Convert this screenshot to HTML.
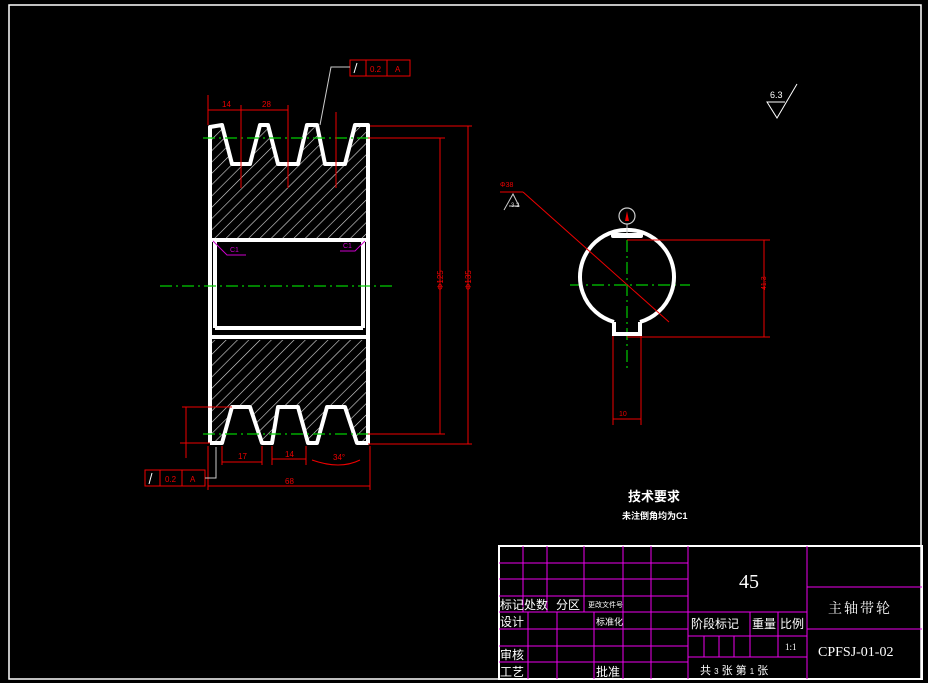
<!DOCTYPE html>
<html><head><meta charset="utf-8"><style>
html,body{margin:0;padding:0;background:#000;}
svg{display:block;}
text{font-family:"Liberation Sans","Noto Sans CJK SC",sans-serif;}
</style></head><body>
<svg width="928" height="683" viewBox="0 0 928 683" xmlns="http://www.w3.org/2000/svg">
<defs>
<pattern id="h" width="8" height="8" patternUnits="userSpaceOnUse" patternTransform="rotate(45)">
<line x1="0" y1="0" x2="0" y2="8" stroke="#ddd" stroke-width="1.2"/>
</pattern>
</defs>
<rect width="928" height="683" fill="#000"/>
<rect x="9" y="5" width="912" height="674" fill="none" stroke="#fff" stroke-width="1.5"/>

<polygon points="208,125 222,125 232,164 250,164 260,125 268,125 278,164 298,164 307,125 317,125 325,164 345,164 355,125 368,125 368,238 210,238" fill="url(#h)"/>
<polygon points="210,340 368,340 368,443 357,443 345,407 327,407 317,443 308,443 298,407 278,407 272,443 262,443 250,407 232,407 222,443 210,443" fill="url(#h)"/>
<g fill="none" stroke="#fff" stroke-width="4" stroke-linejoin="round">
<polyline points="210,443 210,127 222,125 232,164 250,164 260,125 268,125 278,164 298,164 307,125 317,125 325,164 345,164 355,125 368,125 368,443 357,443 345,407 327,407 317,443 308,443 298,407 278,407 272,443 262,443 250,407 232,407 222,443 210,443"/>
<line x1="210" y1="240" x2="368" y2="240"/>
<line x1="210" y1="337" x2="368" y2="337"/>
<line x1="215" y1="242" x2="215" y2="328"/>
<line x1="363" y1="242" x2="363" y2="328"/>
<line x1="215" y1="328" x2="363" y2="328"/>
</g>
<g stroke="#0c0" stroke-width="1.2" stroke-dasharray="12,4,2,4" fill="none">
<line x1="160" y1="286" x2="396" y2="286"/>
<line x1="203" y1="138" x2="372" y2="138"/>
<line x1="203" y1="434" x2="372" y2="434"/>
<line x1="570" y1="285" x2="690" y2="285"/>
<line x1="627" y1="240" x2="627" y2="370"/>
</g>
<g stroke="#c0c" stroke-width="1" fill="none">
<polyline points="213,241 227,255 246,255"/>
<polyline points="365,241 355,251 340,251"/>
</g>
<text x="230" y="252" font-size="7" fill="#c0c">C1</text>
<text x="343" y="248" font-size="7" fill="#c0c">C1</text>

<g stroke="#e00" stroke-width="1" fill="none">
<line x1="208" y1="95" x2="208" y2="125"/><line x1="241" y1="105" x2="241" y2="188"/>
<line x1="288" y1="105" x2="288" y2="188"/><line x1="336" y1="112" x2="336" y2="188"/>
<line x1="208" y1="110" x2="288" y2="110"/>
<line x1="370" y1="126" x2="472" y2="126"/><line x1="368" y1="138" x2="445" y2="138"/>
<line x1="368" y1="434" x2="445" y2="434"/><line x1="368" y1="444" x2="472" y2="444"/>
<line x1="440" y1="138" x2="440" y2="434"/><line x1="468" y1="126" x2="468" y2="444"/>
<line x1="182" y1="407" x2="232" y2="407"/><line x1="186" y1="407" x2="186" y2="458"/>
<line x1="180" y1="443" x2="210" y2="443"/>
<line x1="208" y1="446" x2="208" y2="490"/><line x1="370" y1="446" x2="370" y2="490"/>
<line x1="208" y1="486" x2="370" y2="486"/>
<line x1="222" y1="446" x2="222" y2="465"/><line x1="262" y1="446" x2="262" y2="465"/>
<line x1="222" y1="462" x2="262" y2="462"/>
<line x1="272" y1="446" x2="272" y2="465"/><line x1="306" y1="446" x2="306" y2="465"/>
<line x1="272" y1="459" x2="306" y2="459"/>
<path d="M312,460 Q340,470 360,460"/>
<rect x="350" y="60" width="60" height="16"/><line x1="366" y1="60" x2="366" y2="76"/><line x1="387" y1="60" x2="387" y2="76"/>
<rect x="145" y="470" width="60" height="16"/><line x1="160" y1="470" x2="160" y2="486"/><line x1="182" y1="470" x2="182" y2="486"/>
</g>
<polyline points="350,67 331,67 320,125" fill="none" stroke="#ccc" stroke-width="1"/>
<polyline points="205,478 216,478 216,447" fill="none" stroke="#ccc" stroke-width="1"/>
<g fill="#e00" font-size="8">
<text x="222" y="107">14</text><text x="262" y="107">28</text>
<text x="370" y="72">0.2</text><text x="395" y="72">A</text>
<text x="165" y="482">0.2</text><text x="190" y="482">A</text>
<text x="238" y="459">17</text><text x="285" y="457">14</text><text x="333" y="460">34°</text>
<text x="285" y="484">68</text>
<text x="437" y="296" transform="rotate(-90 437 290)">Φ125</text>
<text x="465" y="296" transform="rotate(-90 465 290)">Φ135</text>
</g>
<line x1="354" y1="73" x2="357" y2="63" stroke="#fff"/><line x1="149" y1="484" x2="152" y2="473" stroke="#fff"/>

<path d="M614,322 A47,47 0 1 1 640,322" fill="none" stroke="#fff" stroke-width="4"/>
<polyline points="614,322 614,334 640,334 640,322" fill="none" stroke="#fff" stroke-width="4"/>
<rect x="611" y="233" width="32" height="5" rx="2" fill="#fff"/>
<line x1="627" y1="224" x2="627" y2="233" stroke="#ccc"/>
<circle cx="627" cy="216" r="8" fill="none" stroke="#ccc" stroke-width="1.2"/>
<path d="M625,221 L627,211 L629,221Z" fill="#e00"/>
<g stroke="#e00" stroke-width="1" fill="none">
<line x1="523" y1="192" x2="669" y2="322"/>
<line x1="500" y1="192" x2="523" y2="192"/>
<line x1="627" y1="240" x2="770" y2="240"/><line x1="627" y1="337" x2="770" y2="337"/>
<line x1="764" y1="240" x2="764" y2="337"/>
<line x1="613" y1="336" x2="613" y2="425"/><line x1="641" y1="336" x2="641" y2="425"/>
<line x1="613" y1="419" x2="641" y2="419"/>
</g>
<text x="500" y="187" font-size="7" fill="#e00">Φ38</text>
<text x="760" y="296" font-size="7" fill="#e00" transform="rotate(-90 760 290)">41.3</text>
<text x="619" y="416" font-size="7" fill="#e00">10</text>
<polyline points="504,210 513,194 519,206 509,206" fill="none" stroke="#ccc"/>
<text x="511" y="207" font-size="6" fill="#ccc">3.2</text>

<polyline points="785,102 767,102 777,118 797,84" fill="none" stroke="#fff" stroke-width="1"/>
<text x="770" y="98" font-size="9" fill="#fff">6.3</text>

<text x="628" y="501" font-size="13" font-weight="bold" fill="#fff">技术要求</text>
<text x="622" y="519" font-size="9" font-weight="bold" fill="#fff">未注倒角均为C1</text>

<rect x="499" y="546" width="423" height="133" fill="none" stroke="#fff" stroke-width="2"/>
<g stroke="#e0e" stroke-width="1" fill="none">
<line x1="499" y1="563" x2="688" y2="563"/><line x1="499" y1="579" x2="688" y2="579"/>
<line x1="499" y1="596" x2="688" y2="596"/><line x1="499" y1="612" x2="807" y2="612"/>
<line x1="499" y1="629" x2="688" y2="629"/><line x1="499" y1="646" x2="688" y2="646"/>
<line x1="499" y1="662" x2="688" y2="662"/>
<line x1="523" y1="546" x2="523" y2="612"/><line x1="547" y1="546" x2="547" y2="612"/>
<line x1="584" y1="546" x2="584" y2="612"/><line x1="623" y1="546" x2="623" y2="679"/>
<line x1="651" y1="546" x2="651" y2="679"/><line x1="688" y1="546" x2="688" y2="679"/>
<line x1="528" y1="612" x2="528" y2="679"/><line x1="557" y1="612" x2="557" y2="679"/>
<line x1="594" y1="612" x2="594" y2="679"/>
<line x1="807" y1="546" x2="807" y2="679"/>
<line x1="688" y1="636" x2="807" y2="636"/><line x1="688" y1="657" x2="807" y2="657"/>
<line x1="750" y1="612" x2="750" y2="657"/><line x1="778" y1="612" x2="778" y2="657"/>
<line x1="704" y1="636" x2="704" y2="657"/><line x1="719" y1="636" x2="719" y2="657"/>
<line x1="734" y1="636" x2="734" y2="657"/>
<line x1="807" y1="587" x2="922" y2="587"/><line x1="807" y1="629" x2="922" y2="629"/>
</g>
<g fill="#fff" font-size="12">
<text x="500" y="609">标记</text><text x="524" y="609">处数</text><text x="556" y="609">分区</text>
<text x="588" y="607" font-size="7">更改文件号</text>
<text x="500" y="626">设计</text><text x="596" y="625" font-size="9">标准化</text>
<text x="500" y="659">审核</text><text x="500" y="676">工艺</text><text x="596" y="676">批准</text>
<text x="691" y="628">阶段标记</text><text x="752" y="628">重量</text><text x="780" y="628">比例</text>
<text x="785" y="650" font-size="9" style="font-family:'Liberation Serif',serif">1:1</text>
<text x="700" y="674" font-size="11">共 <tspan font-size="8">3</tspan> 张  第 <tspan font-size="8">1</tspan> 张</text>
<text x="739" y="588" font-size="20" style="font-family:'Liberation Serif',serif">45</text>
<text x="828" y="613" font-size="14" letter-spacing="2" style="font-family:'Noto Serif CJK SC',serif">主轴带轮</text>
<text x="818" y="656" font-size="14" style="font-family:'Liberation Serif',serif">CPFSJ-01-02</text>
</g>
</svg>
</body></html>
